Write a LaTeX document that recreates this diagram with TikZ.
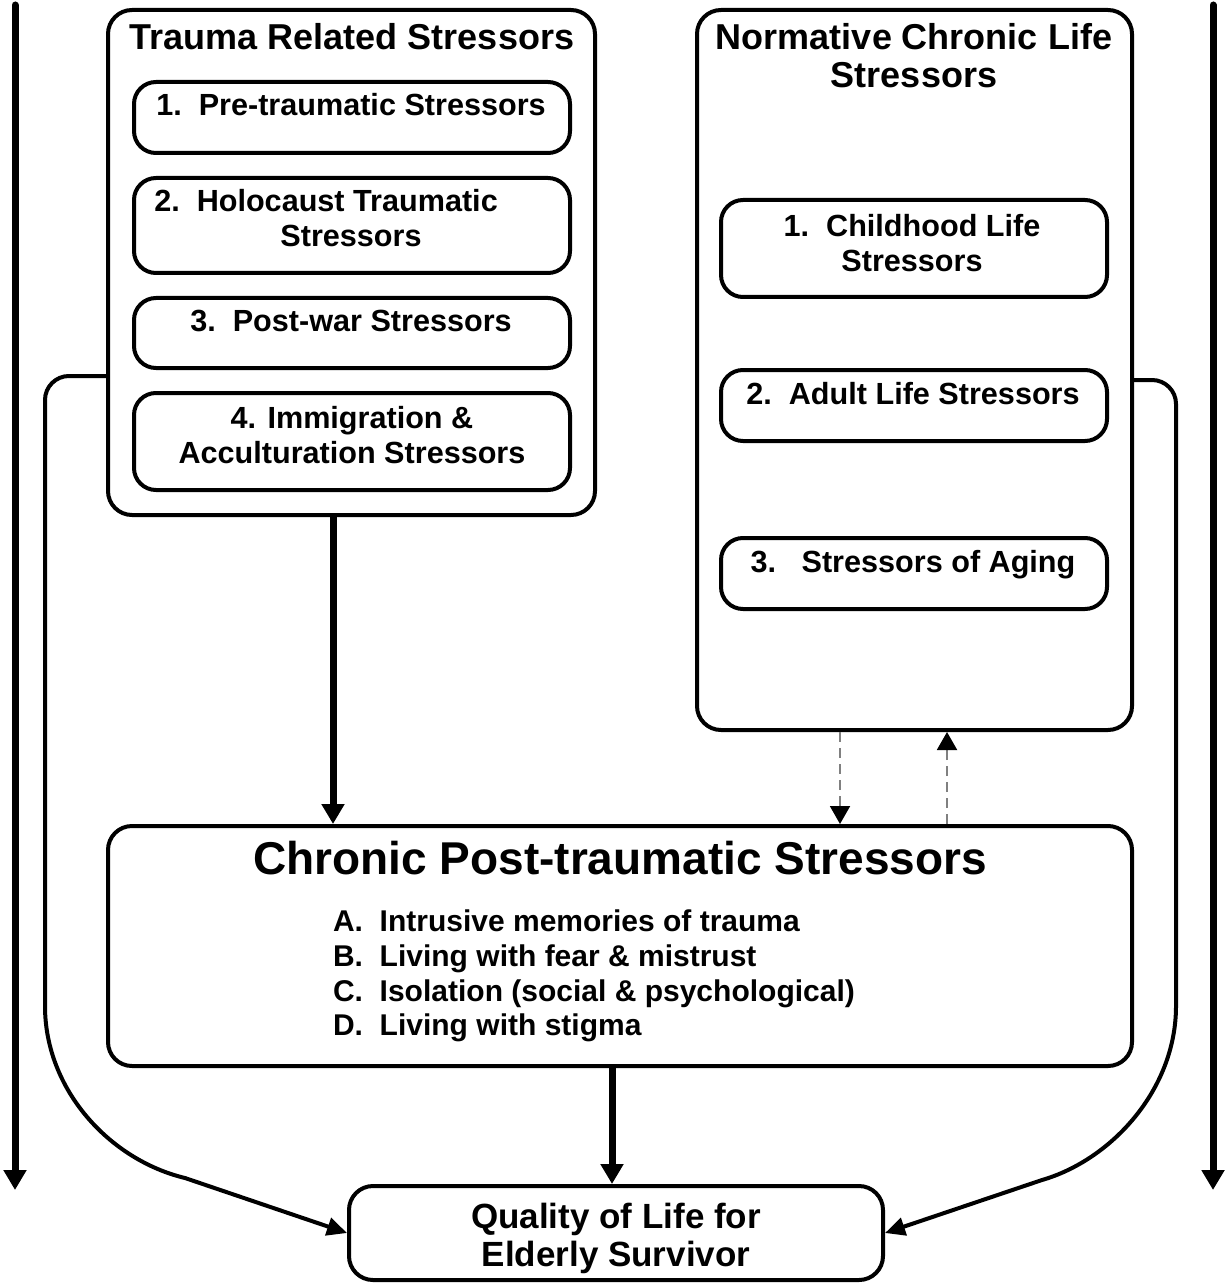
\documentclass[tikz,border=0pt]{standalone}
\usepackage{fontspec}
\setmainfont{Liberation Sans}
\usetikzlibrary{arrows.meta}

\begin{document}
\begin{tikzpicture}[x=0.5pt, y=-0.5pt,
    frame/.style={draw, line width=2pt, rounded corners=12pt},
    subframe/.style={draw, line width=2pt, rounded corners=11pt},
    headtext/.style={font=\fontsize{18}{19}\selectfont\bfseries, align=center},
    boxtext/.style={font=\fontsize{15.3}{17.5}\selectfont\bfseries, align=center},
    timeline/.style={line width=3.5pt, line cap=round, -{Triangle[width=11pt,length=10pt]}},
    mainflow/.style={line width=3.5pt, -{Triangle[width=11pt,length=10pt]}},
    sideflow/.style={line width=2pt, -{Triangle[width=9pt,length=10pt]}},
    feedback/.style={gray, line width=1pt, dash pattern=on 5pt off 3pt, -{Triangle[width=10pt,length=9pt,color=black]}}
]
        \useasboundingbox (0,0) rectangle (1225,1283);

        % Frames
        \node[frame, minimum width=243.5pt, minimum height=252.5pt] (trauma) at (351.5,262.5) {};
        \node[frame, minimum width=217.5pt, minimum height=360pt] (normative) at (914.5,370) {};
        \node[frame, minimum width=512pt, minimum height=120pt] (chronic) at (620,946) {};
        \node[frame, minimum width=267pt, minimum height=47pt] (quality) at (616,1233) {};

        % Titles
        \node[headtext] (traumatitle) at (352,37) {Trauma Related Stressors};
        \node[headtext] (normtitle) at (914,56) {Normative Chronic Life\\Stressors};
        \node[font=\fontsize{23}{27}\selectfont\bfseries] (chronictitle) at (620,858) {Chronic Post-traumatic Stressors};

        % Trauma related stressors
        \node[subframe, minimum width=218pt, minimum height=35.5pt] (pre) at (352,117.5) {};
        \node[boxtext] (pretext) at (351,105) {1.\ \ Pre-traumatic Stressors};
        \node[subframe, minimum width=218pt, minimum height=47.5pt] (holo) at (352,225.5) {};
        \node[boxtext] (holotext) at (326,218.5) {2.\ \ Holocaust Traumatic\\\hspace*{25pt}Stressors};
        \node[subframe, minimum width=218pt, minimum height=35pt] (postwar) at (352,333) {};
        \node[boxtext] (postwartext) at (351,321) {3.\ \ Post-war Stressors};
        \node[subframe, minimum width=218pt, minimum height=48.5pt] (immig) at (352,441.5) {};
        \node[boxtext] (immigtext) at (352,435) {4. Immigration \&\\Acculturation Stressors};

        % Normative stressors
        \node[subframe, minimum width=193pt, minimum height=48.5pt] (child) at (914,248.5) {};
        \node[boxtext] (childtext) at (912,243) {1.\ \ Childhood Life\\Stressors};
        \node[subframe, minimum width=193pt, minimum height=35.5pt] (adult) at (914,405.5) {};
        \node[boxtext] (adulttext) at (913,394) {2.\ \ Adult Life Stressors};
        \node[subframe, minimum width=193pt, minimum height=35.5pt] (aging) at (914,573.5) {};
        \node[boxtext] (agingtext) at (913,565) {3.\ \ \ Stressors of Aging};

        % Chronic list and outcome
        \node[font=\fontsize{15}{17.3}\selectfont\bfseries, align=left, anchor=west] (stressorlist) at (326,976) {A.\ \ Intrusive memories of trauma\\B.\ \ Living with fear \& mistrust\\C.\ \ Isolation (social \& psychological)\\D.\ \ Living with stigma};
        \node[font=\fontsize{17.5}{19}\selectfont\bfseries, align=center] (qualitytext) at (616,1238) {Quality of Life for\\Elderly Survivor};

        % Time axes
        \coordinate (lefttop) at (15,5);
        \coordinate (leftend) at (15,1190);
        \coordinate (righttop) at (1213,5);
        \coordinate (rightend) at (1213,1190);
        \draw[timeline] (lefttop) -- (leftend);
        \draw[timeline] (righttop) -- (rightend);

        % Arrows
        \draw[mainflow] ([xshift=-9.25pt]trauma.south) -- ([xshift=-9.25pt]trauma.south |- chronic.north);
        \draw[mainflow] ([xshift=-4pt]chronic.south) -- ([xshift=-4pt]chronic.south |- quality.north);
        \draw[feedback] ([xshift=-37.25pt]normative.south) -- ([xshift=-37.25pt]normative.south |- chronic.north);
        \draw[feedback] ([xshift=16.25pt]normative.south |- chronic.north) -- ([xshift=16.25pt]normative.south);
        \draw[sideflow] ([yshift=-56.75pt]trauma.west) [rounded corners=12pt] -| (45,982) [sharp corners]
            .. controls (45,1090) and (110,1160) .. (185,1178) -- (quality.west);
        \draw[sideflow] ([yshift=-5pt]normative.east) [rounded corners=12pt] -| (1176,982) [sharp corners]
            .. controls (1176,1090) and (1111,1160) .. (1042,1180) -- (quality.east);
    \end{tikzpicture}
\end{document}
